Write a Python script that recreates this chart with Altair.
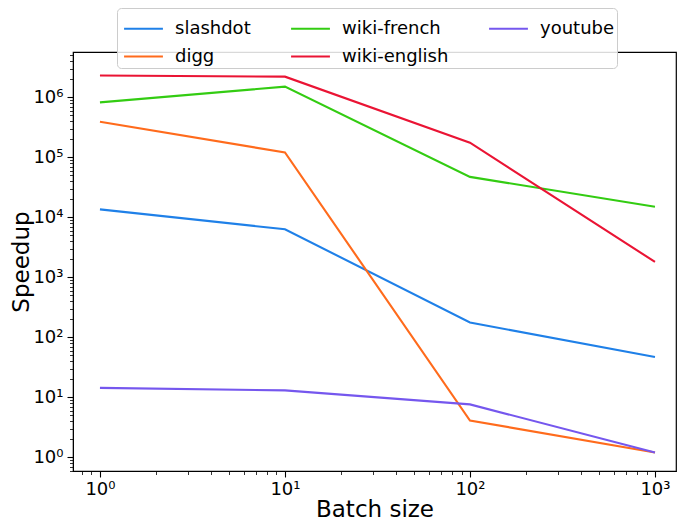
import altair as alt
import pandas as pd

batch_sizes = [1, 10, 100, 1000]
series_names = ["slashdot", "digg", "wiki-french", "wiki-english", "youtube"]
slashdot = [1.35e4, 6.3e3, 176, 47]
digg = [3.9e5, 1.2e5, 4.1, 1.2]
wiki_french = [8.2e5, 1.5e6, 4.7e4, 1.5e4]
wiki_english = [2.3e6, 2.2e6, 1.75e5, 1.8e3]
youtube = [14.3, 13.0, 7.6, 1.2]

colors = ["#1f80e8", "#ff6b1c", "#33cc12", "#ea1434", "#7557ee"]

values = {
    "slashdot": slashdot,
    "digg": digg,
    "wiki-french": wiki_french,
    "wiki-english": wiki_english,
    "youtube": youtube,
}
rows = []
for i, name in enumerate(series_names):
    for b, v in zip(batch_sizes, values[name]):
        rows.append({"batch": b, "speedup": v, "series": name, "k": i})
df = pd.DataFrame(rows)

x_ticks = [0.8, 0.9, 1, 2, 3, 4, 5, 6, 7, 8, 9, 10, 20, 30, 40, 50, 60, 70, 80, 90,
           100, 200, 300, 400, 500, 600, 700, 800, 900, 1000]
y_ticks = [0.6, 0.7, 0.8, 0.9]
for e in range(0, 7):
    for m in range(1, 10):
        v = m * 10 ** e
        if v <= 5.6e6:
            y_ticks.append(v)

major_test = "abs(log(datum.value)/LN10 - round(log(datum.value)/LN10)) < 0.001"
label_expr = ("(" + major_test + ") ? '10' + ['⁰','¹','²','³','⁴','⁵','⁶'][round(log(datum.value)/LN10)] : ''")

font = "DejaVu Sans"
plot_h = 419

def make_axis(title, values_, extra):
    return alt.Axis(
        title=title,
        values=values_,
        labelExpr=label_expr,
        labelOverlap=False,
        labelFont=font,
        labelFontSize=18,
        labelColor="black",
        labelFlush=False,
        grid=False,
        domainColor="black",
        tickColor="black",
        tickSize={"condition": {"test": major_test, "value": 6}, "value": 3.5},
        tickWidth={"condition": {"test": major_test, "value": 1.1}, "value": 0.8},
        titleFont=font,
        titleFontSize=23,
        titleFontWeight="normal",
        titleColor="black",
        **extra,
    )

chart = alt.Chart(df).mark_line(strokeWidth=2.1, clip=True).encode(
    x=alt.X("batch:Q",
            scale=alt.Scale(type="log", domain=[0.715, 1299], nice=False),
            axis=make_axis("Batch size", x_ticks, {
                "labelPadding": 3,
                "titleY": 45, "titleBaseline": "alphabetic"})),
    y=alt.Y("speedup:Q",
            scale=alt.Scale(type="log", domain=[0.59, 5.67e6], nice=False),
            axis=make_axis("Speedup", y_ticks, {
                "labelPadding": 4,
                "titleX": -63, "titleY": plot_h / 2, "titleAngle": 270,
                "titleAlign": "center", "titleBaseline": "top"})),
    color=alt.Color("series:N",
                    scale=alt.Scale(domain=series_names, range=colors),
                    legend=alt.Legend(
                        title=None,
                        orient="none",
                        legendX=44,
                        legendY=-44,
                        columns=3,
                        symbolType="M-1.11,0H1.11",
                        symbolSize=1225,
                        symbolStrokeWidth=2,
                        symbolOffset=6,
                        labelFont=font,
                        labelFontSize=18,
                        labelColor="black",
                        labelOffset=13,
                        labelLimit=300,
                        columnPadding=35,
                        rowPadding=0,
                        padding=2,
                        fillColor="rgba(255,255,255,0.85)",
                        strokeColor="#cccccc",
                        cornerRadius=4,
                    )),
    detail="series:N",
    order="batch:Q",
).properties(
    width=603,
    height=plot_h,
    autosize=alt.AutoSizeParams(type="none"),
    padding={"left": 65, "top": 44, "right": 1, "bottom": 53},
).configure_view(stroke="black", strokeWidth=1.2)

chart.save("out.html", embed_options={"renderer": "svg", "actions": False})
